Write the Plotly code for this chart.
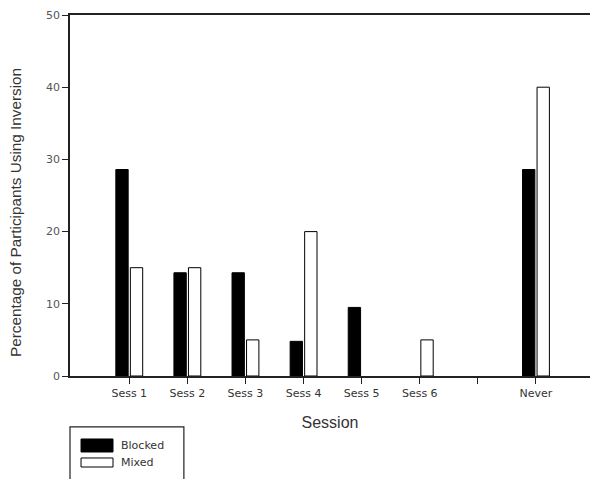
import plotly.graph_objects as go

# Session categories (position 6 is an empty slot before "Never")
categories = ["Sess 1", "Sess 2", "Sess 3", "Sess 4", "Sess 5", "Sess 6", "", "Never"]
positions = [0, 1, 2, 3, 4, 5, 7]

blocked = [28.6, 14.3, 14.3, 4.8, 9.5, 0, 28.6]
mixed = [15, 15, 5, 20, 0, 5, 40]

y_title = "Percentage of Participants Using Inversion"
x_title = "Session"

sans = "Liberation Sans, Arial, sans-serif"
wide = "DejaVu Sans, Verdana, sans-serif"


def outline_widths(values):
    # zero-height bars get no outline so they stay invisible
    return [0 if v == 0 else 1 for v in values]


fig = go.Figure()
fig.add_trace(go.Bar(
    x=positions, y=blocked, name="Blocked",
    marker=dict(color="black", line=dict(color="black", width=outline_widths(blocked))),
    showlegend=False,
))
fig.add_trace(go.Bar(
    x=positions, y=mixed, name="Mixed",
    marker=dict(color="white", line=dict(color="black", width=outline_widths(mixed))),
    showlegend=False,
))

fig.update_layout(
    width=590, height=479,
    margin=dict(l=70, r=0, t=15, b=103),
    paper_bgcolor="white", plot_bgcolor="white",
    barmode="group", bargap=0.5, bargroupgap=0.15,
    font=dict(family=sans, color="#222", size=10),
    xaxis=dict(
        range=[-1.02, 7.93],
        tickmode="array", tickvals=list(range(len(categories))), ticktext=categories,
        ticks="outside", ticklen=6, tickwidth=1.2, tickcolor="#222",
        showline=True, linecolor="#222", linewidth=1.5, mirror=True,
        showgrid=False, zeroline=False,
        tickfont=dict(family=wide, size=11, color="#333"),
        title=dict(text=x_title, font=dict(family=sans, size=16, color="#333"), standoff=18),
    ),
    yaxis=dict(
        range=[0, 50], tickvals=[0, 10, 20, 30, 40, 50],
        ticks="outside", ticklen=6, tickwidth=1.2, tickcolor="#222",
        showline=True, linecolor="#222", linewidth=1.5,
        showgrid=False, zeroline=False,
        tickfont=dict(family=wide, size=11, color="#555"),
    ),
)

# Rotated y-axis title, sitting slightly below the axis midpoint
fig.add_annotation(xref="paper", yref="paper", x=-0.106, y=0.454,
                   text=y_title, textangle=-90, showarrow=False,
                   xanchor="center", yanchor="middle",
                   font=dict(family=sans, size=15.3, color="#333"))

# Boxed legend with wide swatches below the axis
legend_items = [
    ("Blocked", "black", -0.1745, -0.2105, -0.192),
    ("Mixed", "white", -0.2271, -0.2521, -0.239),
]
fig.add_shape(type="rect", xref="paper", yref="paper",
              x0=0, x1=0.219, y0=-0.141, y1=-0.32,
              line=dict(color="#222", width=1.2), fillcolor="rgba(0,0,0,0)")
for name, color, y0, y1, ytext in legend_items:
    fig.add_shape(type="rect", xref="paper", yref="paper",
                  x0=0.0212, x1=0.0827, y0=y0, y1=y1,
                  line=dict(color="black", width=1), fillcolor=color)
    fig.add_annotation(xref="paper", yref="paper", x=0.094, y=ytext,
                       text=name, showarrow=False, xanchor="left", yanchor="middle",
                       font=dict(family=wide, size=11, color="#333"))

fig.write_html("out.html")
